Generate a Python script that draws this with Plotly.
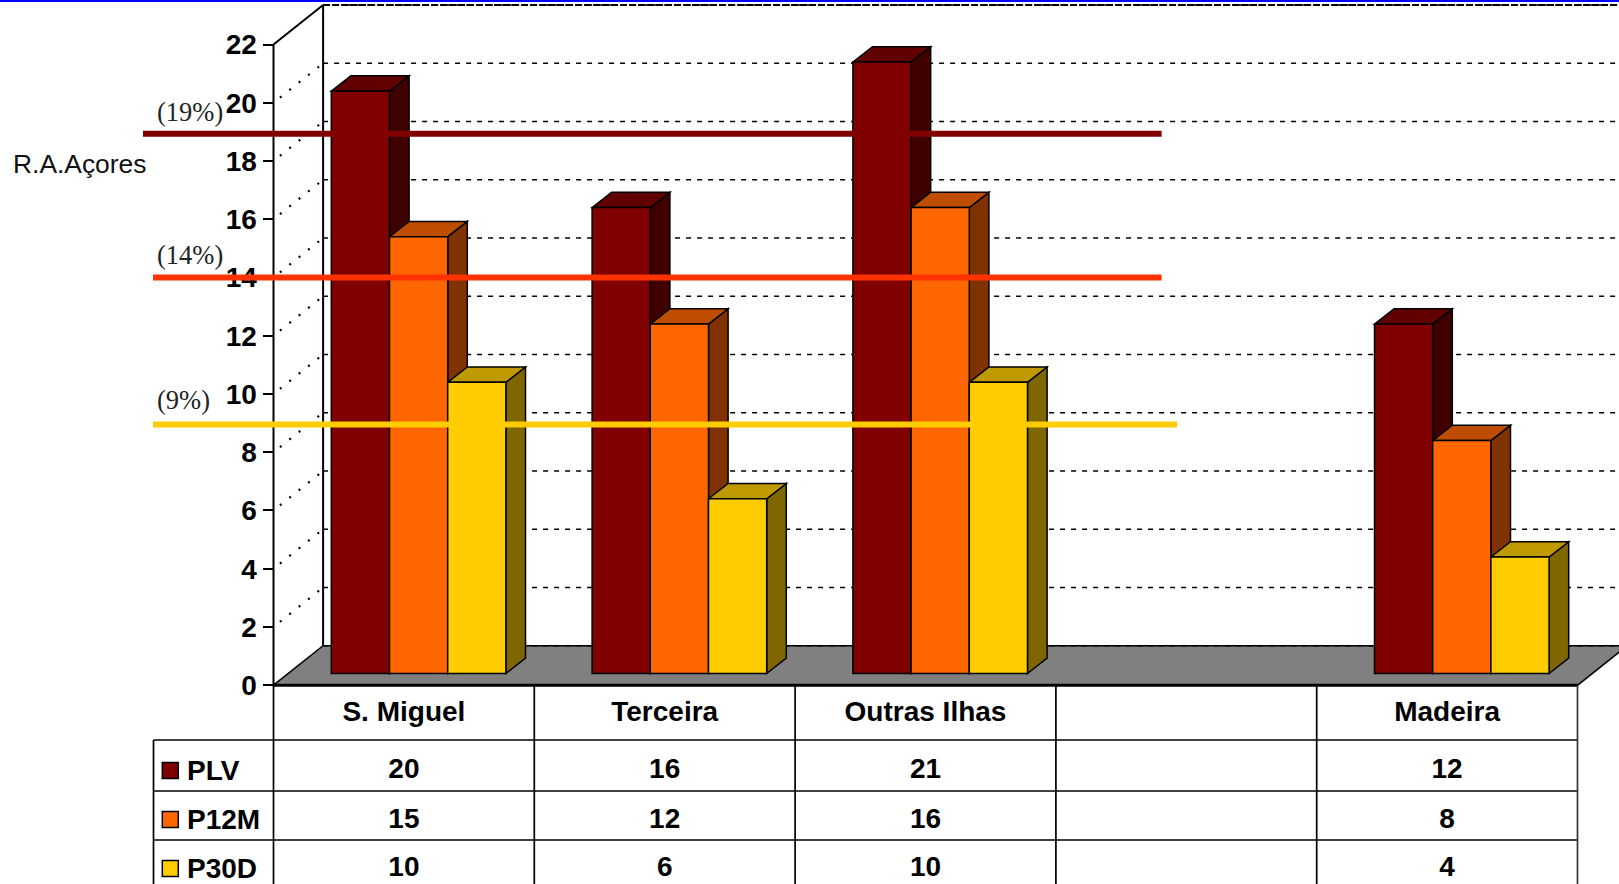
import plotly.graph_objects as go

# ---- data ----
categories = ["S. Miguel", "Terceira", "Outras Ilhas", " ", "Madeira"]
series_names = ["PLV", "P12M", "P30D"]
plv = [20, 16, 21, None, 12]
p12m = [15, 12, 16, None, 8]
p30d = [10, 6, 10, None, 4]
y_ticks = [0, 2, 4, 6, 8, 10, 12, 14, 16, 18, 20, 22]
ref_labels = ["(19%)", "(14%)", "(9%)"]
ref_values = [18.94, 14.0, 8.95]

# ---- styles ----
front = ["#800000", "#FF6600", "#FFCC00"]
top = ["#600000", "#BF4D00", "#BF9900"]
side = ["#400000", "#803300", "#806600"]
ref_colors = ["#800000", "#FF3300", "#FFCC00"]

W, H = 1619, 884
X0, CATW = 273.5, 260.8     # left of first category (px), category width (px)
Y0, UNIT = 685.2, 29.12     # pixel of value 0, px per unit

def X(px):
    return (px - X0) / CATW - 0.5

def Y(py):
    return (Y0 - py) / UNIT

def dx(px):
    return px / CATW

def dy(px):
    return px / UNIT

series = [plv, p12m, p30d]
DEPTH_X, DEPTH_Y = dx(49.6), dy(39.5)
BAR_W = dx(58.2)
BAR_SHIFT = dx(14.7)
BAR_BASE = dy(11.7)
BAR_DX, BAR_DY = dx(19.6), dy(15.3)
X_RIGHT = X(1577.7)
X_LEFT = X(X0)
BACK_Y_TOP = 22 + DEPTH_Y

shapes = []

def line(x0, y0, x1, y1, width=1.5, dash="solid", color="black"):
    shapes.append(dict(type="line", xref="x", yref="y", x0=x0, y0=y0, x1=x1, y1=y1,
                       layer="below", line=dict(color=color, width=width, dash=dash)))

def poly(pts, fill, width=1.5):
    path = "M " + " L ".join(f"{a},{b}" for a, b in pts) + " Z"
    shapes.append(dict(type="path", xref="x", yref="y", path=path, layer="below",
                       fillcolor=fill, line=dict(color="black", width=width)))

# floor
poly([(X_LEFT, 0), (X_LEFT + DEPTH_X, DEPTH_Y), (X_RIGHT + DEPTH_X, DEPTH_Y), (X_RIGHT, 0)], "#808080", 1.5)

# walls and grid
line(X_LEFT + DEPTH_X, 0 + DEPTH_Y, X_LEFT + DEPTH_X, BACK_Y_TOP, 2)
line(X_LEFT, 0, X_LEFT, 22, 2)
line(X_LEFT, 22, X_LEFT + DEPTH_X, BACK_Y_TOP, 2)
for v in y_ticks:
    line(X_LEFT + DEPTH_X, v + DEPTH_Y, X(W) + 0.1, v + DEPTH_Y, 1.5, "5px,6px")
    if 0 < v < 22:
        line(X_LEFT + DEPTH_X * 0.13, v + DEPTH_Y * 0.13, X_LEFT + DEPTH_X, v + DEPTH_Y, 2.2, "2px,10px")
line(X_LEFT + DEPTH_X, BACK_Y_TOP, X(W) + 0.1, BACK_Y_TOP, 2, "7px,2px")

# side and top faces of each bar, computed from the values
bar_traces = []
for s, vals in enumerate(series):
    xs = []
    for c, v in enumerate(vals):
        xc = c + BAR_SHIFT + (s - 1) * BAR_W
        xs.append(xc)
        if v is None:
            continue
        l, r = xc - BAR_W / 2, xc + BAR_W / 2
        b, t = BAR_BASE, BAR_BASE + v
        poly([(r, b), (r + BAR_DX, b + BAR_DY), (r + BAR_DX, t + BAR_DY), (r, t)], side[s])
        poly([(l, t), (l + BAR_DX, t + BAR_DY), (r + BAR_DX, t + BAR_DY), (r, t)], top[s])
    bar_traces.append(go.Bar(x=xs, y=vals, base=BAR_BASE, width=BAR_W, name=series_names[s],
                             marker=dict(color=front[s], line=dict(color="black", width=1.5)),
                             showlegend=False))

# table rules
floor_line_w = 3
line(X_LEFT, 0, X_RIGHT, 0, floor_line_w)
row_lines = [Y(740), Y(791), Y(840)]
TABLE_LEFT = X(153.5)
for ry in row_lines:
    line(TABLE_LEFT, ry, X_RIGHT, ry, 1.7)
for c in range(6):
    xv = c - 0.5
    line(xv, 0, xv, Y(H) - 0.1, 1.7, color="#333333" if c == 5 else "black")
line(TABLE_LEFT, row_lines[0], TABLE_LEFT, Y(H) - 0.1, 1.7)

# top blue rule
shapes.append(dict(type="rect", xref="paper", yref="paper", x0=0, x1=1, y0=1 - 2 / H, y1=1,
                   fillcolor="#0000FF", line=dict(width=0), layer="above"))

fig = go.Figure(bar_traces)

# reference lines
ref_starts = [143, 153, 153]
ref_ends = [1161.6, 1161.6, 1177]
for i, v in enumerate(ref_values):
    fig.add_trace(go.Scatter(x=[X(ref_starts[i]), X(ref_ends[i])], y=[v, v], mode="lines",
                             line=dict(color=ref_colors[i], width=6), showlegend=False,
                             hoverinfo="skip"))

# table values
row_centers = [Y(771), Y(820.5), Y(869)]
key_centers = [Y(773), Y(822), Y(870.5)]
key_rows = [Y(770.5), Y(819.5), Y(868.5)]
for s, vals in enumerate(series):
    fig.add_trace(go.Scatter(
        x=list(range(len(vals))), y=[row_centers[s]] * len(vals),
        text=["" if v is None else str(v) for v in vals], mode="text",
        textposition="middle center",
        textfont=dict(family="Liberation Sans", size=28, color="black", weight="bold"),
        showlegend=False, hoverinfo="skip"))
    fig.add_trace(go.Scatter(
        x=[X(170.3)], y=[key_rows[s]], mode="markers",
        marker=dict(symbol="square", size=16, color=front[s], line=dict(color="black", width=1.5)),
        showlegend=False, hoverinfo="skip"))
    fig.add_trace(go.Scatter(
        x=[X(187)], y=[key_centers[s]], text=[series_names[s]], mode="text",
        textposition="middle right",
        textfont=dict(family="Liberation Sans", size=28, color="black", weight="bold"),
        showlegend=False, hoverinfo="skip"))

annotations = [
    dict(x=X(11), y=Y(163.5), xref="x", yref="y", text="R.A.Açores", showarrow=False, xanchor="left",
         yanchor="middle", font=dict(family="Liberation Sans", size=26.4, color="#111111")),
]
label_y = [111.5, 255, 400]
for t, py in zip(ref_labels, label_y):
    annotations.append(dict(x=X(155), y=Y(py), xref="x", yref="y", text=t, showarrow=False,
                            xanchor="left", yanchor="middle",
                            font=dict(family="Liberation Serif", size=26.5, color="#222222")))

fig.update_layout(
    width=W, height=H, margin=dict(l=0, r=0, t=0, b=0), paper_bgcolor="white", plot_bgcolor="white",
    barmode="overlay", showlegend=False, shapes=shapes, annotations=annotations,
    xaxis=dict(range=[X(0), X(W)], domain=[0, 1], anchor="free", position=(H - Y0) / H,
               tickmode="array", tickvals=list(range(len(categories))), ticktext=categories,
               tickfont=dict(family="Liberation Sans", size=28, color="black", weight="bold"),
               showgrid=False, zeroline=False, showline=False, ticks="", ticklabelstandoff=7,
               layer="below traces", tickangle=0),
    yaxis=dict(range=[Y(H), Y(0)], domain=[0, 1], anchor="free", position=X0 / W,
               tickmode="array", tickvals=y_ticks, ticks="outside", ticklen=11, tickwidth=1.5,
               tickcolor="black",
               tickfont=dict(family="Liberation Sans", size=28, color="black", weight="bold"),
               showgrid=False, zeroline=False, showline=False, layer="below traces"),
)

fig.write_html("out.html", config=dict(displayModeBar=False),
               post_script="document.body.style.margin='0';document.body.style.overflow='hidden';")
